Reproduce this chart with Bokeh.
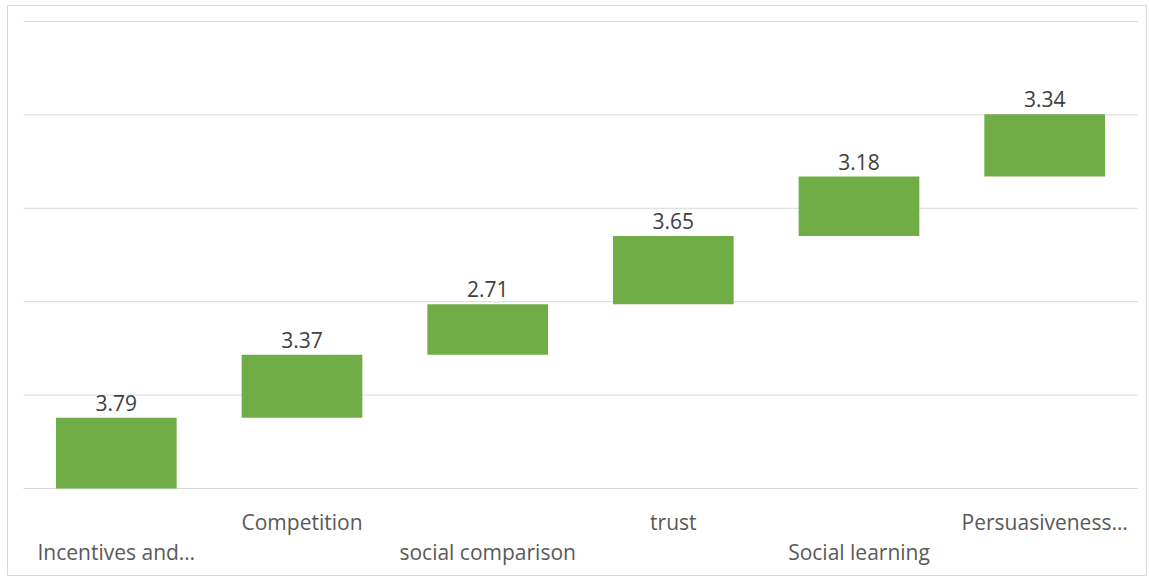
from bokeh.plotting import figure
from bokeh.models import Range1d, ColumnDataSource
from bokeh.core.properties import value
from bokeh.embed import file_html
from bokeh.resources import INLINE

categories = ["Incentives and\u2026", "Competition", "social comparison", "trust",
              "Social learning", "Persuasiveness\u2026"]
values = [3.79, 3.37, 2.71, 3.65, 3.18, 3.34]
label_texts = ["3.79", "3.37", "2.71", "3.65", "3.18", "3.34"]
grid_values = [0, 5, 10, 15, 20, 25]

# waterfall cumulative
bottoms, tops = [], []
acc = 0.0
for v in values:
    bottoms.append(acc)
    acc += v
    tops.append(acc)
xs = [i + 0.5 for i in range(len(categories))]

W, H = 1149, 578
fl, fr, ft, fb = 7, 1146, 5, 575          # frame box in pixels
pl, pr, pt, pb = 23, 1137, 21, 488        # plot area in pixels
ncat = len(categories)
sx = (pr - pl) / ncat
sy = (pb - pt) / 25.0
x_start = -(pl - fl) / sx
x_end = ncat + (fr - pr) / sx
y_end = 25 + (pt - ft) / sy
y_start = -(fb - pb) / sy

p = figure(width=W, height=H, output_backend="svg", toolbar_location=None,
           x_range=Range1d(x_start, x_end), y_range=Range1d(y_start, y_end),
           min_border_left=fl, min_border_right=W - fr, min_border_top=ft,
           min_border_bottom=H - fb)
p.axis.visible = False
p.grid.visible = False
p.outline_line_color = "#d9d9d9"
p.outline_line_width = 1
p.background_fill_color = "white"
p.border_fill_color = "white"

p.segment(x0=[0] * len(grid_values), x1=[ncat] * len(grid_values),
          y0=grid_values, y1=grid_values, line_color="#d9d9d9", line_width=1)

src = ColumnDataSource(dict(x=xs, bottom=bottoms, top=tops, lab=label_texts,
                            cat=categories))
p.vbar(x="x", bottom="bottom", top="top", width=0.65, source=src,
       fill_color="#70AD47", line_color=None)

p.text(x="x", y="top", text="lab", source=src, text_align="center",
       text_baseline="alphabetic", y_offset=-15, text_font=value("Open Sans"),
       text_font_size="21px", text_color="#404040")

upper = ColumnDataSource(dict(x=xs[1::2], y=[0] * 3, t=categories[1::2]))
lower = ColumnDataSource(dict(x=xs[0::2], y=[0] * 3, t=categories[0::2]))
p.text(x="x", y="y", text="t", source=upper, text_align="center",
       text_baseline="alphabetic", y_offset=33, text_font=value("Open Sans"),
       text_font_size="21px", text_color="#595959")
p.text(x="x", y="y", text="t", source=lower, text_align="center",
       text_baseline="alphabetic", y_offset=63, text_font=value("Open Sans"),
       text_font_size="21px", text_color="#595959")

open("out.html", "w").write(file_html(p, INLINE))
